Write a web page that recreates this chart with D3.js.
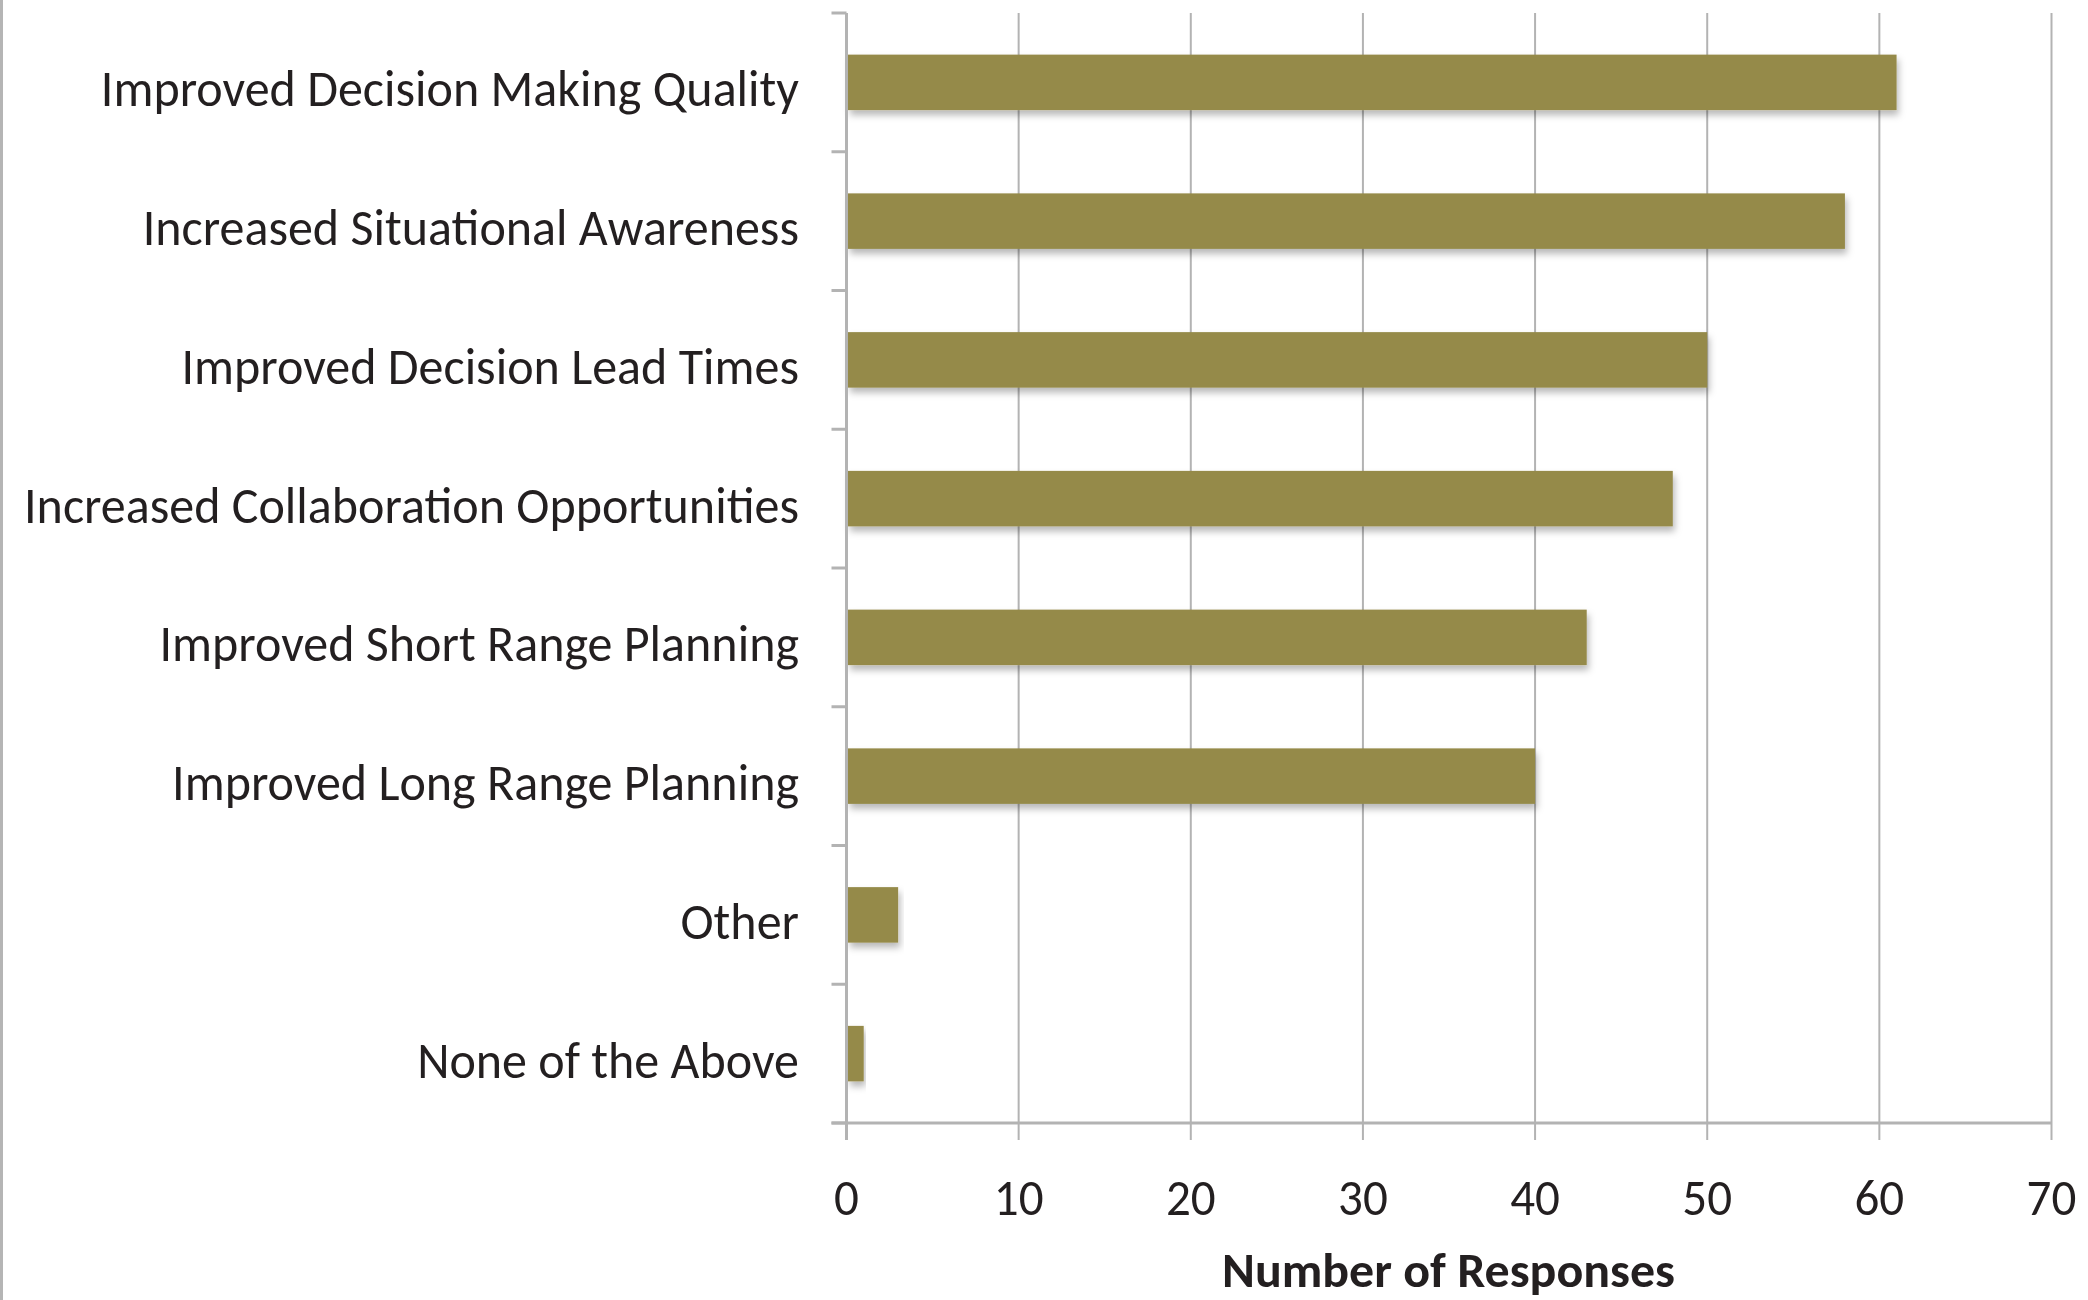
<!DOCTYPE html>
<html>
<head>
<meta charset="utf-8">
<script src="https://cdn.jsdelivr.net/npm/d3@7"></script>
<style>
html,body{margin:0;padding:0;background:#fff;}
svg{display:block;}
</style>
</head>
<body>
<script>
const categories = [
  "Improved Decision Making Quality",
  "Increased Situational Awareness",
  "Improved Decision Lead Times",
  "Increased Collaboration Opportunities",
  "Improved Short Range Planning",
  "Improved Long Range Planning",
  "Other",
  "None of the Above"
];
const values = [61, 58, 50, 48, 43, 40, 3, 1];
const xTicks = [0, 10, 20, 30, 40, 50, 60, 70];
const xTitle = "Number of Responses";

(function () {
const W = 2088, H = 1300;
const pL = 846.5, pR = 2051.5, pT = 13, pB = 1123;
const FONT = "Carlito, Lato, 'Open Sans', sans-serif";

const svg = d3.select("body").append("svg").attr("width", W).attr("height", H);

const defs = svg.append("defs");
const f = defs.append("filter").attr("id", "shadow").attr("x", "-5%").attr("y", "-20%").attr("width", "115%").attr("height", "160%");
f.append("feDropShadow").attr("dx", 2).attr("dy", 5).attr("stdDeviation", 3.5)
  .attr("flood-color", "#000").attr("flood-opacity", 0.28);

// left border
svg.append("line").attr("x1", 1.5).attr("x2", 1.5).attr("y1", 0).attr("y2", H)
  .attr("stroke", "#b5b5b5").attr("stroke-width", 3);

const x = d3.scaleLinear().domain([0, 70]).range([pL, pR]);
const y = d3.scaleBand().domain(categories).range([pT, pB]).paddingInner(0.6).paddingOuter(0.3);

// vertical gridlines
svg.append("g").selectAll("line").data(xTicks.slice(1)).join("line")
  .attr("x1", d => x(d)).attr("x2", d => x(d))
  .attr("y1", pT).attr("y2", pB + 17)
  .attr("stroke", "#b3b3b3").attr("stroke-width", 2);

// bars
svg.append("g").selectAll("rect").data(values).join("rect")
  .attr("x", x(0) + 1.5)
  .attr("y", (d, i) => y(categories[i]))
  .attr("width", d => x(d) - x(0) - 1.5)
  .attr("height", y.bandwidth())
  .attr("fill", "#958a49")
  .attr("filter", "url(#shadow)");

// y axis line and category ticks
const step = (pB - pT) / categories.length;
const bounds = d3.range(categories.length + 1).map(i => pT + i * step);
svg.append("g").selectAll("line").data(bounds).join("line")
  .attr("x1", pL - 15).attr("x2", pL)
  .attr("y1", d => d).attr("y2", d => d)
  .attr("stroke", "#b3b3b3").attr("stroke-width", 3);
svg.append("line").attr("x1", pL).attr("x2", pL).attr("y1", pT).attr("y2", pB + 17)
  .attr("stroke", "#b3b3b3").attr("stroke-width", 3);
// x axis line
svg.append("line").attr("x1", pL - 15).attr("x2", pR).attr("y1", pB).attr("y2", pB)
  .attr("stroke", "#b3b3b3").attr("stroke-width", 3);

// category labels
const labs = svg.append("g").selectAll("text").data(categories).join("text")
  .attr("x", 799)
  .attr("y", d => y(d) + y.bandwidth() / 2 + 24)
  .attr("text-anchor", "end")
  .attr("font-family", FONT)
  .attr("font-size", 52)
  .attr("fill", "#231f20")
  .text(d => d);
let maxW = 0;
labs.each(function () { maxW = Math.max(maxW, this.getComputedTextLength()); });
const k = 775 / maxW;
labs.each(function () {
  const w = this.getComputedTextLength();
  d3.select(this).attr("textLength", w * k).attr("lengthAdjust", "spacingAndGlyphs");
});

// x tick labels
const tl = svg.append("g").selectAll("text").data(xTicks).join("text")
  .attr("x", d => x(d))
  .attr("y", 1215)
  .attr("text-anchor", "middle")
  .attr("font-family", FONT)
  .attr("font-size", 51)
  .attr("fill", "#231f20")
  .text(d => d);
tl.each(function () {
  const w = this.getComputedTextLength();
  d3.select(this).attr("textLength", w * k).attr("lengthAdjust", "spacingAndGlyphs");
});

// x title
const tt = svg.append("text")
  .attr("x", (1222 + 1675) / 2)
  .attr("y", 1287)
  .attr("text-anchor", "middle")
  .attr("font-family", FONT)
  .attr("font-weight", "bold")
  .attr("font-size", 48)
  .attr("fill", "#231f20")
  .text(xTitle);
tt.attr("textLength", 453).attr("lengthAdjust", "spacingAndGlyphs");
})();
</script>
</body>
</html>
